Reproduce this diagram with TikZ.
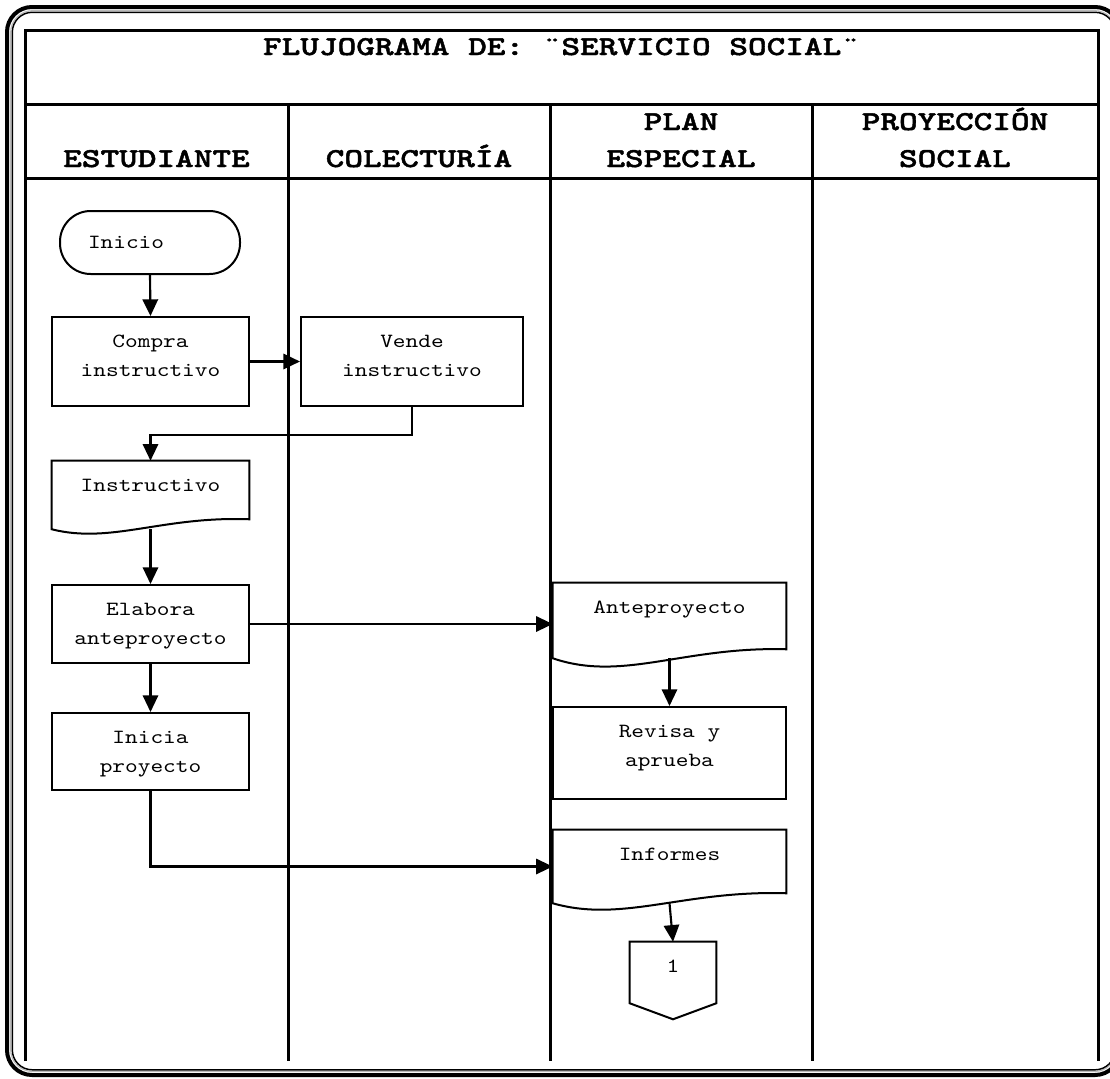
\documentclass[tikz,border=0pt]{standalone}
\usepackage{fontspec}
\usetikzlibrary{arrows.meta,calc}

% Typewriter faces for the chart
\newfontfamily\flowfont[Extension=.otf, FakeStretch=1.2]{lmmono10-regular}
\newfontfamily\headfont[Extension=.otf, FakeStretch=1.3, FakeBold=1.6]{lmmonolt10-bold}
\newcommand\bodytext{\flowfont\fontsize{15.1pt}{21.75pt}\selectfont}
\newcommand\headtext{\headfont\fontsize{20.5pt}{27.75pt}\selectfont}
\newcommand\twolines[2]{\begin{tabular}[b]{@{}c@{}}#1\\#2\end{tabular}}

% Outline of a document symbol drawn around a (borderless) node:
% #1 node, #2 depth of the wave, #3 rise of the right-hand end
\newcommand\docframe[3]{%
  \draw[boxline] (#1.north west) -- (#1.north east)
    -- ($(#1.south east)+(0,-#3)$)
    .. controls ($(#1.south west)!0.56!(#1.south east)+(0,{-1.33*#3})$)
    and ($(#1.south west)!0.30!(#1.south east)+(0,#2)$) .. (#1.south west)
    -- cycle;}

\tikzset{
  lane/.style={line width=2.25pt},
  boxline/.style={line width=1.5pt},
  flow/.style={line width=1.6pt, -{Triangle[length=12.5pt,width=11.5pt]}},
  textbox/.style 2 args={inner sep=0pt, font=\bodytext,
    execute at begin node={\begin{minipage}[c][#2][t]{#1}\centering\rule{0pt}{22.5pt}},
    execute at end node={\end{minipage}}},
  procbox/.style 2 args={textbox={#1}{#2}, draw, boxline},
  docbox/.style 2 args={textbox={#1}{#2}},
  termbox/.style={draw, boxline, rounded corners=23pt, minimum width=135pt,
    minimum height=47.25pt, inner xsep=21pt, inner ysep=0pt, text width=93pt,
    align=left, font=\bodytext},
  headlabel/.style={font=\headtext, inner sep=0pt, anchor=base},
}

\begin{document}
\begin{tikzpicture}[x=0.75pt, y=-0.75pt]
  \useasboundingbox (0,0) rectangle (1110,1078);
  \clip (0,0) rectangle (1110,1078);

  % page frame: heavy rule, grey hairline, thin rule (right side runs off the page)
  \draw[line width=3pt, rounded corners=18.75pt] (7,7) rectangle (1120,1075);
  \draw[gray!55, line width=0.8pt, rounded corners=16.5pt] (10.6,10.6) rectangle (1116.5,1071.5);
  \draw[line width=1.1pt, rounded corners=15pt] (12.3,12.3) rectangle (1115,1069.8);

  % swimlane table
  \draw[lane] (25,1061) -- (25,30) -- (1098,30) -- (1098,1061);
  \draw[lane] (25,104) -- (1098,104);
  \draw[lane] (25,178) -- (1098,178);
  \foreach \lx in {288,550,812}
    \draw[lane] (\lx,104) -- (\lx,1061);

  % title and lane headings
  \node[headlabel] (titulo) at (561.5,55) {FLUJOGRAMA DE: ¨SERVICIO SOCIAL¨};
  \node[headlabel] (estudiante) at (156.5,167) {ESTUDIANTE};
  \node[headlabel] (colecturia) at (419,167) {COLECTURÍA};
  \node[headlabel] (plan) at (681,167) {\twolines{PLAN}{ESPECIAL}};
  \node[headlabel] (proyeccion) at (955,167) {\twolines{PROYECCIÓN}{SOCIAL}};

  % steps
  \node[termbox] (inicio) at (150,242.5) {Inicio};
  \node[procbox={147.75pt}{66.75pt}] (compra) at (150.5,361.5) {Compra\\instructivo};
  \node[procbox={166.5pt}{66.75pt}] (vende) at (412,361.5) {Vende\\instructivo};
  \node[docbox={147.75pt}{51pt}] (instr) at (150.5,495) {Instructivo};
  \node[procbox={147.75pt}{58.5pt}] (elabora) at (150.5,624) {Elabora\\anteproyecto};
  \node[docbox={174.75pt}{56.25pt}] (ante) at (669.5,620.5) {Anteproyecto};
  \node[procbox={174.75pt}{69pt}] (revisa) at (669.5,753) {Revisa y\\aprueba};
  \node[procbox={147.75pt}{57.75pt}] (inicia) at (150.5,751.5) {Inicia\\proyecto};
  \node[docbox={174.75pt}{54.75pt}] (informes) at (669.5,866.5) {Informes};
  \node[docbox={64.5pt}{45.75pt}] (conector) at (673,972.5) {1};

  % document and off-page outlines
  \docframe{instr}{15}{10}
  \docframe{ante}{24}{9}
  \docframe{informes}{20}{10}
  \draw[boxline] (conector.north west) -- (conector.north east) -- (conector.south east)
    -- ($(conector.south)+(0,16)$) -- (conector.south west) -- cycle;

  % connectors
  \draw[flow] (inicio.south) -- (compra.north);
  \draw[flow] (compra.east) -- (vende.west);
  \draw[flow] (vende.south) -- ++(0,28) -| (instr.north);
  \draw[flow] (instr.south) -- (elabora.north);
  \draw[flow] (elabora.east) -- (elabora.east -| ante.west);
  \draw[flow] (ante.south) -- (revisa.north);
  \draw[flow] (elabora.south) -- (inicia.north);
  \draw[flow] (inicia.south) |- (informes.west);
  \draw[flow] (informes.south) -- (conector.north);
\end{tikzpicture}
\end{document}
